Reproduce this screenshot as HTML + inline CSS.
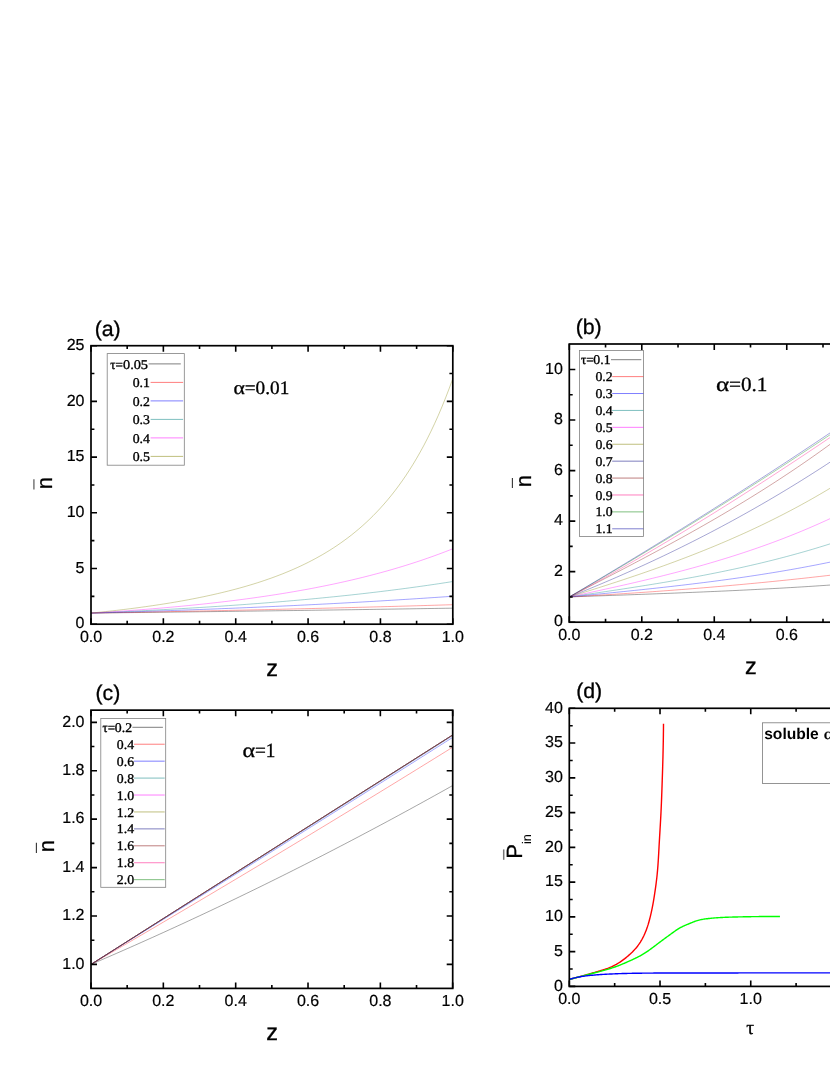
<!DOCTYPE html>
<html><head><meta charset="utf-8"><title>figure</title>
<style>
html,body{margin:0;padding:0;background:#fff;}
body{width:830px;height:1075px;overflow:hidden;font-family:"Liberation Sans", sans-serif;}
svg{display:block;will-change:transform;}
text{text-rendering:geometricPrecision;}
.tk{font-family:"Liberation Sans", sans-serif;font-size:16.0px;fill:#000;stroke:#000;stroke-width:0.2px;}
.ttl{font-family:"Liberation Sans", sans-serif;font-size:22px;fill:#000;stroke:#000;stroke-width:0.3px;}
.zl{font-family:"Liberation Sans", sans-serif;font-size:23.5px;fill:#000;stroke:#000;stroke-width:0.3px;}
.pl{font-family:"Liberation Sans", sans-serif;font-size:21.3px;fill:#000;stroke:#000;stroke-width:0.3px;}
.ser{font-family:"Liberation Serif", serif;fill:#000;stroke:#000;stroke-width:0.3px;}
.lg{font-family:"Liberation Serif", serif;fill:#000;stroke:#000;stroke-width:0.35px;}
</style></head><body>
<svg width="830" height="1075" viewBox="0 0 830 1075">
<rect width="830" height="1075" fill="#fff"/>
<g>
<polyline points="91,613.06 94.62,613.02 98.24,612.98 101.85,612.94 105.47,612.9 109.09,612.86 112.71,612.81 116.33,612.77 119.94,612.73 123.56,612.69 127.18,612.65 130.8,612.6 134.42,612.56 138.03,612.52 141.65,612.48 145.27,612.43 148.89,612.39 152.51,612.35 156.12,612.3 159.74,612.26 163.36,612.22 166.98,612.17 170.6,612.13 174.21,612.09 177.83,612.04 181.45,612 185.07,611.95 188.69,611.91 192.3,611.86 195.92,611.82 199.54,611.77 203.16,611.73 206.78,611.68 210.39,611.64 214.01,611.59 217.63,611.54 221.25,611.5 224.87,611.45 228.48,611.4 232.1,611.36 235.72,611.31 239.34,611.26 242.96,611.22 246.57,611.17 250.19,611.12 253.81,611.07 257.43,611.03 261.05,610.98 264.66,610.93 268.28,610.88 271.9,610.83 275.52,610.78 279.14,610.73 282.75,610.68 286.37,610.64 289.99,610.59 293.61,610.54 297.23,610.49 300.84,610.44 304.46,610.39 308.08,610.34 311.7,610.28 315.32,610.23 318.93,610.18 322.55,610.13 326.17,610.08 329.79,610.03 333.41,609.98 337.02,609.93 340.64,609.87 344.26,609.82 347.88,609.77 351.5,609.72 355.11,609.66 358.73,609.61 362.35,609.56 365.97,609.5 369.59,609.45 373.2,609.4 376.82,609.34 380.44,609.29 384.06,609.23 387.68,609.18 391.29,609.12 394.91,609.07 398.53,609.01 402.15,608.96 405.77,608.9 409.38,608.85 413,608.79 416.62,608.73 420.24,608.68 423.86,608.62 427.47,608.56 431.09,608.51 434.71,608.45 438.33,608.39 441.95,608.33 445.56,608.27 449.18,608.22 452.8,608.16" fill="none" stroke="#000000" stroke-width="0.7" stroke-opacity="0.5" stroke-linejoin="round"/>
<polyline points="91,613.06 94.62,613 98.24,612.93 101.85,612.87 105.47,612.81 109.09,612.74 112.71,612.68 116.33,612.61 119.94,612.55 123.56,612.48 127.18,612.42 130.8,612.35 134.42,612.29 138.03,612.22 141.65,612.15 145.27,612.08 148.89,612.02 152.51,611.95 156.12,611.88 159.74,611.81 163.36,611.74 166.98,611.67 170.6,611.6 174.21,611.53 177.83,611.46 181.45,611.39 185.07,611.32 188.69,611.24 192.3,611.17 195.92,611.1 199.54,611.02 203.16,610.95 206.78,610.88 210.39,610.8 214.01,610.73 217.63,610.65 221.25,610.57 224.87,610.5 228.48,610.42 232.1,610.34 235.72,610.27 239.34,610.19 242.96,610.11 246.57,610.03 250.19,609.95 253.81,609.87 257.43,609.79 261.05,609.71 264.66,609.63 268.28,609.55 271.9,609.46 275.52,609.38 279.14,609.3 282.75,609.21 286.37,609.13 289.99,609.04 293.61,608.96 297.23,608.87 300.84,608.79 304.46,608.7 308.08,608.61 311.7,608.53 315.32,608.44 318.93,608.35 322.55,608.26 326.17,608.17 329.79,608.08 333.41,607.99 337.02,607.9 340.64,607.81 344.26,607.72 347.88,607.63 351.5,607.53 355.11,607.44 358.73,607.34 362.35,607.25 365.97,607.16 369.59,607.06 373.2,606.96 376.82,606.87 380.44,606.77 384.06,606.67 387.68,606.57 391.29,606.47 394.91,606.37 398.53,606.27 402.15,606.17 405.77,606.07 409.38,605.97 413,605.87 416.62,605.77 420.24,605.66 423.86,605.56 427.47,605.45 431.09,605.35 434.71,605.24 438.33,605.14 441.95,605.03 445.56,604.92 449.18,604.81 452.8,604.71" fill="none" stroke="#ff0000" stroke-width="0.7" stroke-opacity="0.5" stroke-linejoin="round"/>
<polyline points="91,613.06 94.62,612.96 98.24,612.85 101.85,612.75 105.47,612.64 109.09,612.54 112.71,612.43 116.33,612.32 119.94,612.21 123.56,612.1 127.18,611.99 130.8,611.87 134.42,611.76 138.03,611.64 141.65,611.53 145.27,611.41 148.89,611.29 152.51,611.17 156.12,611.05 159.74,610.93 163.36,610.81 166.98,610.68 170.6,610.56 174.21,610.43 177.83,610.31 181.45,610.18 185.07,610.05 188.69,609.92 192.3,609.79 195.92,609.65 199.54,609.52 203.16,609.38 206.78,609.25 210.39,609.11 214.01,608.97 217.63,608.83 221.25,608.68 224.87,608.54 228.48,608.4 232.1,608.25 235.72,608.1 239.34,607.95 242.96,607.8 246.57,607.65 250.19,607.5 253.81,607.34 257.43,607.19 261.05,607.03 264.66,606.87 268.28,606.71 271.9,606.55 275.52,606.39 279.14,606.22 282.75,606.06 286.37,605.89 289.99,605.72 293.61,605.55 297.23,605.38 300.84,605.2 304.46,605.03 308.08,604.85 311.7,604.67 315.32,604.49 318.93,604.31 322.55,604.12 326.17,603.94 329.79,603.75 333.41,603.56 337.02,603.37 340.64,603.18 344.26,602.98 347.88,602.79 351.5,602.59 355.11,602.39 358.73,602.19 362.35,601.99 365.97,601.78 369.59,601.57 373.2,601.36 376.82,601.15 380.44,600.94 384.06,600.72 387.68,600.51 391.29,600.29 394.91,600.07 398.53,599.84 402.15,599.62 405.77,599.39 409.38,599.16 413,598.93 416.62,598.7 420.24,598.46 423.86,598.22 427.47,597.98 431.09,597.74 434.71,597.5 438.33,597.25 441.95,597 445.56,596.75 449.18,596.49 452.8,596.24" fill="none" stroke="#0000ff" stroke-width="0.7" stroke-opacity="0.5" stroke-linejoin="round"/>
<polyline points="91,613.06 94.62,612.91 98.24,612.76 101.85,612.6 105.47,612.45 109.09,612.29 112.71,612.13 116.33,611.96 119.94,611.8 123.56,611.63 127.18,611.46 130.8,611.29 134.42,611.11 138.03,610.94 141.65,610.76 145.27,610.57 148.89,610.39 152.51,610.2 156.12,610.01 159.74,609.82 163.36,609.63 166.98,609.43 170.6,609.23 174.21,609.03 177.83,608.82 181.45,608.62 185.07,608.41 188.69,608.19 192.3,607.98 195.92,607.76 199.54,607.53 203.16,607.31 206.78,607.08 210.39,606.85 214.01,606.61 217.63,606.38 221.25,606.14 224.87,605.89 228.48,605.64 232.1,605.39 235.72,605.14 239.34,604.88 242.96,604.62 246.57,604.35 250.19,604.09 253.81,603.81 257.43,603.54 261.05,603.26 264.66,602.98 268.28,602.69 271.9,602.4 275.52,602.1 279.14,601.81 282.75,601.5 286.37,601.2 289.99,600.88 293.61,600.57 297.23,600.25 300.84,599.93 304.46,599.6 308.08,599.27 311.7,598.93 315.32,598.59 318.93,598.24 322.55,597.89 326.17,597.53 329.79,597.17 333.41,596.81 337.02,596.44 340.64,596.06 344.26,595.68 347.88,595.3 351.5,594.91 355.11,594.51 358.73,594.11 362.35,593.7 365.97,593.29 369.59,592.87 373.2,592.45 376.82,592.02 380.44,591.58 384.06,591.14 387.68,590.7 391.29,590.24 394.91,589.78 398.53,589.32 402.15,588.85 405.77,588.37 409.38,587.88 413,587.39 416.62,586.9 420.24,586.39 423.86,585.88 427.47,585.36 431.09,584.84 434.71,584.3 438.33,583.77 441.95,583.22 445.56,582.66 449.18,582.1 452.8,581.53" fill="none" stroke="#008080" stroke-width="0.7" stroke-opacity="0.5" stroke-linejoin="round"/>
<polyline points="91,613.06 94.62,612.84 98.24,612.63 101.85,612.4 105.47,612.17 109.09,611.94 112.71,611.71 116.33,611.46 119.94,611.22 123.56,610.97 127.18,610.71 130.8,610.45 134.42,610.19 138.03,609.92 141.65,609.64 145.27,609.36 148.89,609.07 152.51,608.78 156.12,608.48 159.74,608.18 163.36,607.87 166.98,607.55 170.6,607.23 174.21,606.9 177.83,606.57 181.45,606.23 185.07,605.88 188.69,605.53 192.3,605.17 195.92,604.8 199.54,604.43 203.16,604.05 206.78,603.66 210.39,603.26 214.01,602.86 217.63,602.44 221.25,602.02 224.87,601.6 228.48,601.16 232.1,600.71 235.72,600.26 239.34,599.8 242.96,599.33 246.57,598.85 250.19,598.36 253.81,597.86 257.43,597.35 261.05,596.83 264.66,596.3 268.28,595.76 271.9,595.21 275.52,594.65 279.14,594.08 282.75,593.5 286.37,592.91 289.99,592.31 293.61,591.69 297.23,591.06 300.84,590.42 304.46,589.77 308.08,589.11 311.7,588.43 315.32,587.74 318.93,587.03 322.55,586.32 326.17,585.58 329.79,584.84 333.41,584.08 337.02,583.3 340.64,582.51 344.26,581.71 347.88,580.89 351.5,580.05 355.11,579.2 358.73,578.33 362.35,577.45 365.97,576.54 369.59,575.62 373.2,574.68 376.82,573.73 380.44,572.75 384.06,571.76 387.68,570.75 391.29,569.72 394.91,568.66 398.53,567.59 402.15,566.5 405.77,565.38 409.38,564.25 413,563.09 416.62,561.91 420.24,560.71 423.86,559.48 427.47,558.23 431.09,556.96 434.71,555.66 438.33,554.34 441.95,552.99 445.56,551.61 449.18,550.21 452.8,548.78" fill="none" stroke="#ff00ff" stroke-width="0.7" stroke-opacity="0.5" stroke-linejoin="round"/>
<polyline points="91,613.06 94.62,612.7 98.24,612.34 101.85,611.97 105.47,611.58 109.09,611.19 112.71,610.79 116.33,610.38 119.94,609.96 123.56,609.52 127.18,609.08 130.8,608.63 134.42,608.17 138.03,607.69 141.65,607.2 145.27,606.71 148.89,606.2 152.51,605.67 156.12,605.14 159.74,604.59 163.36,604.02 166.98,603.45 170.6,602.86 174.21,602.25 177.83,601.63 181.45,600.99 185.07,600.34 188.69,599.66 192.3,598.98 195.92,598.27 199.54,597.54 203.16,596.8 206.78,596.04 210.39,595.25 214.01,594.44 217.63,593.61 221.25,592.76 224.87,591.89 228.48,590.99 232.1,590.06 235.72,589.11 239.34,588.13 242.96,587.12 246.57,586.08 250.19,585.01 253.81,583.91 257.43,582.77 261.05,581.6 264.66,580.39 268.28,579.14 271.9,577.86 275.52,576.53 279.14,575.16 282.75,573.75 286.37,572.29 289.99,570.77 293.61,569.21 297.23,567.6 300.84,565.93 304.46,564.2 308.08,562.41 311.7,560.55 315.32,558.63 318.93,556.64 322.55,554.58 326.17,552.44 329.79,550.22 333.41,547.91 337.02,545.52 340.64,543.04 344.26,540.45 347.88,537.77 351.5,534.98 355.11,532.07 358.73,529.05 362.35,525.91 365.97,522.63 369.59,519.21 373.2,515.65 376.82,511.94 380.44,508.07 384.06,504.03 387.68,499.81 391.29,495.41 394.91,490.8 398.53,485.99 402.15,480.95 405.77,475.69 409.38,470.17 413,464.4 416.62,458.35 420.24,452.01 423.86,445.36 427.47,438.39 431.09,431.07 434.71,423.39 438.33,415.31 441.95,406.83 445.56,397.91 449.18,388.52 452.8,378.64" fill="none" stroke="#808000" stroke-width="0.7" stroke-opacity="0.5" stroke-linejoin="round"/>
<rect x="91" y="345.7" width="361.8" height="278.5" fill="none" stroke="#000" stroke-width="1.7"/>
<path d="M91 624.2v-6.0M91 345.7v6.0M163.36 624.2v-6.0M163.36 345.7v6.0M235.72 624.2v-6.0M235.72 345.7v6.0M308.08 624.2v-6.0M308.08 345.7v6.0M380.44 624.2v-6.0M380.44 345.7v6.0M452.8 624.2v-6.0M452.8 345.7v6.0M127.18 624.2v-3.4M127.18 345.7v3.4M199.54 624.2v-3.4M199.54 345.7v3.4M271.9 624.2v-3.4M271.9 345.7v3.4M344.26 624.2v-3.4M344.26 345.7v3.4M416.62 624.2v-3.4M416.62 345.7v3.4" stroke="#000" stroke-width="1.6" fill="none"/>
<text x="91" y="641.8" text-anchor="middle" class="tk">0.0</text>
<text x="163.36" y="641.8" text-anchor="middle" class="tk">0.2</text>
<text x="235.72" y="641.8" text-anchor="middle" class="tk">0.4</text>
<text x="308.08" y="641.8" text-anchor="middle" class="tk">0.6</text>
<text x="380.44" y="641.8" text-anchor="middle" class="tk">0.8</text>
<text x="452.8" y="641.8" text-anchor="middle" class="tk">1.0</text>
<path d="M91 624.2h6.0M452.8 624.2h-6.0M91 568.5h6.0M452.8 568.5h-6.0M91 512.8h6.0M452.8 512.8h-6.0M91 457.1h6.0M452.8 457.1h-6.0M91 401.4h6.0M452.8 401.4h-6.0M91 345.7h6.0M452.8 345.7h-6.0M91 596.35h3.4M452.8 596.35h-3.4M91 540.65h3.4M452.8 540.65h-3.4M91 484.95h3.4M452.8 484.95h-3.4M91 429.25h3.4M452.8 429.25h-3.4M91 373.55h3.4M452.8 373.55h-3.4" stroke="#000" stroke-width="1.6" fill="none"/>
<text x="84.5" y="628.4" text-anchor="end" class="tk">0</text>
<text x="84.5" y="572.7" text-anchor="end" class="tk">5</text>
<text x="84.5" y="517" text-anchor="end" class="tk">10</text>
<text x="84.5" y="461.3" text-anchor="end" class="tk">15</text>
<text x="84.5" y="405.6" text-anchor="end" class="tk">20</text>
<text x="84.5" y="349.9" text-anchor="end" class="tk">25</text>
<rect x="107.2" y="353.6" width="77.1" height="111.6" fill="#fff" stroke="#808080" stroke-width="0.8"/>
<text transform="translate(148 368.5) scale(1.065 1)" text-anchor="end" class="lg" font-size="13.4">0.05</text>
<text transform="translate(123.03 368.5) scale(0.98 1)" text-anchor="end" class="lg" font-size="13.4">τ=</text>
<line x1="148.6" y1="363.9" x2="180.8" y2="363.9" stroke="#000000" stroke-width="0.6" stroke-opacity="0.85"/>
<text transform="translate(149.9 387) scale(1.03 1)" text-anchor="end" class="lg" font-size="13.4">0.1</text>
<line x1="150.6" y1="382.4" x2="183.1" y2="382.4" stroke="#ff0000" stroke-width="0.6" stroke-opacity="0.85"/>
<text transform="translate(149.9 405.5) scale(1.03 1)" text-anchor="end" class="lg" font-size="13.4">0.2</text>
<line x1="150.6" y1="400.9" x2="183.1" y2="400.9" stroke="#0000ff" stroke-width="0.6" stroke-opacity="0.85"/>
<text transform="translate(149.9 424) scale(1.03 1)" text-anchor="end" class="lg" font-size="13.4">0.3</text>
<line x1="150.6" y1="419.4" x2="183.1" y2="419.4" stroke="#008080" stroke-width="0.6" stroke-opacity="0.85"/>
<text transform="translate(149.9 442.5) scale(1.03 1)" text-anchor="end" class="lg" font-size="13.4">0.4</text>
<line x1="150.6" y1="437.9" x2="183.1" y2="437.9" stroke="#ff00ff" stroke-width="0.6" stroke-opacity="0.85"/>
<text transform="translate(149.9 461) scale(1.03 1)" text-anchor="end" class="lg" font-size="13.4">0.5</text>
<line x1="150.6" y1="456.4" x2="183.1" y2="456.4" stroke="#808000" stroke-width="0.6" stroke-opacity="0.85"/>
<text x="94.7" y="335.8" class="pl">(a)</text>
<text x="233.6" y="394.3" class="ser" font-size="19" textLength="11.4" lengthAdjust="spacingAndGlyphs">α</text>
<text x="244.7" y="394.3" class="ser" font-size="19" textLength="44.6" lengthAdjust="spacingAndGlyphs">=0.01</text>
<text x="272.2" y="675.8" text-anchor="middle" class="zl">z</text>
<text transform="translate(51.8 483) rotate(-90)" text-anchor="middle" class="ttl">n</text>
<line x1="33.9" y1="479.3" x2="33.9" y2="489.4" stroke="#777" stroke-width="1.5"/>
<polyline points="569.3,596.93 572.92,596.8 576.55,596.67 580.17,596.54 583.8,596.41 587.42,596.28 591.05,596.15 594.67,596.03 598.29,595.9 601.92,595.77 605.54,595.64 609.17,595.51 612.79,595.38 616.42,595.25 620.04,595.13 623.66,595 627.29,594.87 630.91,594.74 634.54,594.6 638.16,594.47 641.79,594.34 645.41,594.21 649.03,594.07 652.66,593.94 656.28,593.8 659.91,593.67 663.53,593.53 667.16,593.39 670.78,593.25 674.4,593.11 678.03,592.97 681.65,592.82 685.28,592.68 688.9,592.53 692.53,592.38 696.15,592.23 699.77,592.08 703.4,591.93 707.02,591.77 710.65,591.62 714.27,591.46 717.9,591.3 721.52,591.14 725.14,590.97 728.77,590.81 732.39,590.64 736.02,590.47 739.64,590.29 743.27,590.12 746.89,589.94 750.51,589.76 754.14,589.58 757.76,589.39 761.39,589.2 765.01,589.01 768.64,588.82 772.26,588.62 775.89,588.42 779.51,588.22 783.13,588.02 786.76,587.81 790.38,587.6 794.01,587.38 797.63,587.16 801.26,586.94 804.88,586.72 808.5,586.49 812.13,586.26 815.75,586.02 819.38,585.78 823,585.54 826.63,585.29 830.25,585.04 833.87,584.79 837.5,584.53 841.12,584.27" fill="none" stroke="#000000" stroke-width="0.7" stroke-opacity="0.5" stroke-linejoin="round"/>
<polyline points="569.3,596.93 572.92,596.73 576.55,596.52 580.17,596.32 583.8,596.11 587.42,595.9 591.05,595.68 594.67,595.47 598.29,595.25 601.92,595.03 605.54,594.81 609.17,594.58 612.79,594.36 616.42,594.13 620.04,593.89 623.66,593.66 627.29,593.42 630.91,593.18 634.54,592.94 638.16,592.69 641.79,592.44 645.41,592.19 649.03,591.94 652.66,591.69 656.28,591.43 659.91,591.16 663.53,590.9 667.16,590.63 670.78,590.36 674.4,590.09 678.03,589.81 681.65,589.54 685.28,589.25 688.9,588.97 692.53,588.68 696.15,588.39 699.77,588.1 703.4,587.8 707.02,587.5 710.65,587.2 714.27,586.89 717.9,586.58 721.52,586.27 725.14,585.95 728.77,585.63 732.39,585.31 736.02,584.98 739.64,584.65 743.27,584.32 746.89,583.98 750.51,583.64 754.14,583.3 757.76,582.95 761.39,582.6 765.01,582.25 768.64,581.89 772.26,581.53 775.89,581.16 779.51,580.79 783.13,580.42 786.76,580.05 790.38,579.67 794.01,579.28 797.63,578.9 801.26,578.5 804.88,578.11 808.5,577.71 812.13,577.31 815.75,576.9 819.38,576.49 823,576.08 826.63,575.66 830.25,575.23 833.87,574.81 837.5,574.38 841.12,573.94" fill="none" stroke="#ff0000" stroke-width="0.7" stroke-opacity="0.5" stroke-linejoin="round"/>
<polyline points="569.3,596.93 572.92,596.58 576.55,596.22 580.17,595.87 583.8,595.52 587.42,595.16 591.05,594.81 594.67,594.45 598.29,594.09 601.92,593.74 605.54,593.38 609.17,593.02 612.79,592.65 616.42,592.29 620.04,591.92 623.66,591.55 627.29,591.18 630.91,590.81 634.54,590.43 638.16,590.06 641.79,589.68 645.41,589.29 649.03,588.9 652.66,588.51 656.28,588.12 659.91,587.72 663.53,587.32 667.16,586.91 670.78,586.51 674.4,586.09 678.03,585.67 681.65,585.25 685.28,584.82 688.9,584.39 692.53,583.95 696.15,583.51 699.77,583.06 703.4,582.61 707.02,582.15 710.65,581.69 714.27,581.22 717.9,580.74 721.52,580.26 725.14,579.77 728.77,579.27 732.39,578.77 736.02,578.26 739.64,577.74 743.27,577.22 746.89,576.69 750.51,576.15 754.14,575.6 757.76,575.05 761.39,574.49 765.01,573.92 768.64,573.34 772.26,572.75 775.89,572.16 779.51,571.55 783.13,570.94 786.76,570.32 790.38,569.69 794.01,569.05 797.63,568.4 801.26,567.74 804.88,567.07 808.5,566.39 812.13,565.7 815.75,565 819.38,564.29 823,563.57 826.63,562.84 830.25,562.1 833.87,561.34 837.5,560.58 841.12,559.8" fill="none" stroke="#0000ff" stroke-width="0.7" stroke-opacity="0.5" stroke-linejoin="round"/>
<polyline points="569.3,596.93 572.92,596.4 576.55,595.87 580.17,595.34 583.8,594.81 587.42,594.28 591.05,593.74 594.67,593.21 598.29,592.67 601.92,592.14 605.54,591.6 609.17,591.05 612.79,590.51 616.42,589.96 620.04,589.41 623.66,588.86 627.29,588.3 630.91,587.74 634.54,587.17 638.16,586.6 641.79,586.03 645.41,585.45 649.03,584.86 652.66,584.27 656.28,583.68 659.91,583.08 663.53,582.47 667.16,581.86 670.78,581.24 674.4,580.61 678.03,579.98 681.65,579.34 685.28,578.69 688.9,578.03 692.53,577.37 696.15,576.7 699.77,576.01 703.4,575.33 707.02,574.63 710.65,573.92 714.27,573.2 717.9,572.48 721.52,571.74 725.14,570.99 728.77,570.23 732.39,569.47 736.02,568.69 739.64,567.9 743.27,567.1 746.89,566.28 750.51,565.46 754.14,564.62 757.76,563.77 761.39,562.91 765.01,562.04 768.64,561.15 772.26,560.25 775.89,559.33 779.51,558.4 783.13,557.46 786.76,556.5 790.38,555.53 794.01,554.54 797.63,553.54 801.26,552.53 804.88,551.49 808.5,550.45 812.13,549.38 815.75,548.3 819.38,547.2 823,546.09 826.63,544.96 830.25,543.81 833.87,542.64 837.5,541.46 841.12,540.26" fill="none" stroke="#008080" stroke-width="0.7" stroke-opacity="0.5" stroke-linejoin="round"/>
<polyline points="569.3,596.93 572.92,596.16 576.55,595.39 580.17,594.61 583.8,593.84 587.42,593.06 591.05,592.28 594.67,591.49 598.29,590.71 601.92,589.91 605.54,589.12 609.17,588.32 612.79,587.52 616.42,586.71 620.04,585.89 623.66,585.07 627.29,584.25 630.91,583.42 634.54,582.58 638.16,581.73 641.79,580.88 645.41,580.02 649.03,579.15 652.66,578.27 656.28,577.39 659.91,576.5 663.53,575.59 667.16,574.68 670.78,573.76 674.4,572.83 678.03,571.88 681.65,570.93 685.28,569.97 688.9,568.99 692.53,568 696.15,567 699.77,565.99 703.4,564.97 707.02,563.93 710.65,562.88 714.27,561.81 717.9,560.73 721.52,559.64 725.14,558.53 728.77,557.41 732.39,556.27 736.02,555.12 739.64,553.95 743.27,552.76 746.89,551.56 750.51,550.34 754.14,549.1 757.76,547.85 761.39,546.57 765.01,545.28 768.64,543.97 772.26,542.65 775.89,541.3 779.51,539.93 783.13,538.55 786.76,537.14 790.38,535.71 794.01,534.26 797.63,532.79 801.26,531.3 804.88,529.79 808.5,528.26 812.13,526.7 815.75,525.12 819.38,523.52 823,521.89 826.63,520.24 830.25,518.56 833.87,516.87 837.5,515.14 841.12,513.39" fill="none" stroke="#ff00ff" stroke-width="0.7" stroke-opacity="0.5" stroke-linejoin="round"/>
<polyline points="569.3,596.93 572.92,595.81 576.55,594.68 580.17,593.55 583.8,592.42 587.42,591.28 591.05,590.14 594.67,588.99 598.29,587.84 601.92,586.68 605.54,585.52 609.17,584.35 612.79,583.17 616.42,581.99 620.04,580.8 623.66,579.6 627.29,578.39 630.91,577.18 634.54,575.95 638.16,574.72 641.79,573.48 645.41,572.23 649.03,570.96 652.66,569.69 656.28,568.41 659.91,567.12 663.53,565.82 667.16,564.5 670.78,563.17 674.4,561.83 678.03,560.48 681.65,559.12 685.28,557.74 688.9,556.35 692.53,554.94 696.15,553.52 699.77,552.09 703.4,550.64 707.02,549.18 710.65,547.7 714.27,546.21 717.9,544.7 721.52,543.17 725.14,541.63 728.77,540.07 732.39,538.49 736.02,536.89 739.64,535.28 743.27,533.65 746.89,532 750.51,530.33 754.14,528.64 757.76,526.94 761.39,525.21 765.01,523.46 768.64,521.69 772.26,519.9 775.89,518.09 779.51,516.26 783.13,514.41 786.76,512.53 790.38,510.63 794.01,508.71 797.63,506.77 801.26,504.8 804.88,502.81 808.5,500.79 812.13,498.75 815.75,496.68 819.38,494.59 823,492.48 826.63,490.34 830.25,488.17 833.87,485.98 837.5,483.76 841.12,481.51" fill="none" stroke="#808000" stroke-width="0.7" stroke-opacity="0.5" stroke-linejoin="round"/>
<polyline points="569.3,596.93 572.92,595.48 576.55,594.03 580.17,592.56 583.8,591.09 587.42,589.6 591.05,588.1 594.67,586.59 598.29,585.08 601.92,583.55 605.54,582.01 609.17,580.46 612.79,578.9 616.42,577.33 620.04,575.74 623.66,574.15 627.29,572.54 630.91,570.93 634.54,569.3 638.16,567.66 641.79,566.01 645.41,564.35 649.03,562.67 652.66,560.99 656.28,559.29 659.91,557.58 663.53,555.86 667.16,554.12 670.78,552.38 674.4,550.62 678.03,548.85 681.65,547.06 685.28,545.26 688.9,543.46 692.53,541.63 696.15,539.8 699.77,537.95 703.4,536.09 707.02,534.21 710.65,532.33 714.27,530.43 717.9,528.51 721.52,526.58 725.14,524.64 728.77,522.69 732.39,520.72 736.02,518.74 739.64,516.74 743.27,514.73 746.89,512.7 750.51,510.66 754.14,508.61 757.76,506.54 761.39,504.46 765.01,502.37 768.64,500.25 772.26,498.13 775.89,495.99 779.51,493.83 783.13,491.66 786.76,489.47 790.38,487.27 794.01,485.06 797.63,482.83 801.26,480.58 804.88,478.32 808.5,476.04 812.13,473.74 815.75,471.43 819.38,469.11 823,466.77 826.63,464.41 830.25,462.03 833.87,459.64 837.5,457.24 841.12,454.82" fill="none" stroke="#000080" stroke-width="0.7" stroke-opacity="0.5" stroke-linejoin="round"/>
<polyline points="569.3,596.93 572.92,595.06 576.55,593.19 580.17,591.32 583.8,589.45 587.42,587.58 591.05,585.71 594.67,583.84 598.29,581.96 601.92,580.09 605.54,578.21 609.17,576.33 612.79,574.44 616.42,572.56 620.04,570.66 623.66,568.77 627.29,566.87 630.91,564.97 634.54,563.06 638.16,561.15 641.79,559.23 645.41,557.31 649.03,555.38 652.66,553.44 656.28,551.5 659.91,549.55 663.53,547.59 667.16,545.63 670.78,543.65 674.4,541.67 678.03,539.68 681.65,537.69 685.28,535.68 688.9,533.66 692.53,531.64 696.15,529.6 699.77,527.55 703.4,525.49 707.02,523.42 710.65,521.34 714.27,519.25 717.9,517.15 721.52,515.03 725.14,512.9 728.77,510.76 732.39,508.6 736.02,506.43 739.64,504.25 743.27,502.05 746.89,499.84 750.51,497.61 754.14,495.37 757.76,493.11 761.39,490.84 765.01,488.55 768.64,486.24 772.26,483.92 775.89,481.58 779.51,479.22 783.13,476.84 786.76,474.45 790.38,472.04 794.01,469.61 797.63,467.16 801.26,464.69 804.88,462.2 808.5,459.69 812.13,457.16 815.75,454.61 819.38,452.04 823,449.45 826.63,446.84 830.25,444.2 833.87,441.54 837.5,438.86 841.12,436.16" fill="none" stroke="#800000" stroke-width="0.7" stroke-opacity="0.5" stroke-linejoin="round"/>
<polyline points="569.3,596.93 572.92,594.99 576.55,593.03 580.17,591.07 583.8,589.1 587.42,587.13 591.05,585.14 594.67,583.14 598.29,581.14 601.92,579.13 605.54,577.11 609.17,575.08 612.79,573.04 616.42,570.99 620.04,568.94 623.66,566.88 627.29,564.8 630.91,562.73 634.54,560.64 638.16,558.54 641.79,556.44 645.41,554.33 649.03,552.21 652.66,550.09 656.28,547.95 659.91,545.81 663.53,543.66 667.16,541.5 670.78,539.34 674.4,537.17 678.03,534.99 681.65,532.8 685.28,530.61 688.9,528.41 692.53,526.2 696.15,523.98 699.77,521.76 703.4,519.53 707.02,517.29 710.65,515.05 714.27,512.8 717.9,510.54 721.52,508.27 725.14,506 728.77,503.72 732.39,501.44 736.02,499.15 739.64,496.85 743.27,494.54 746.89,492.23 750.51,489.91 754.14,487.59 757.76,485.26 761.39,482.92 765.01,480.58 768.64,478.23 772.26,475.88 775.89,473.51 779.51,471.15 783.13,468.77 786.76,466.39 790.38,464.01 794.01,461.62 797.63,459.22 801.26,456.82 804.88,454.41 808.5,452 812.13,449.58 815.75,447.15 819.38,444.72 823,442.28 826.63,439.84 830.25,437.4 833.87,434.94 837.5,432.49 841.12,430.02" fill="none" stroke="#ff0080" stroke-width="0.7" stroke-opacity="0.5" stroke-linejoin="round"/>
<polyline points="569.3,596.93 572.92,594.84 576.55,592.75 580.17,590.66 583.8,588.56 587.42,586.45 591.05,584.34 594.67,582.22 598.29,580.1 601.92,577.98 605.54,575.84 609.17,573.71 612.79,571.57 616.42,569.42 620.04,567.27 623.66,565.11 627.29,562.95 630.91,560.79 634.54,558.62 638.16,556.44 641.79,554.26 645.41,552.08 649.03,549.89 652.66,547.69 656.28,545.5 659.91,543.29 663.53,541.08 667.16,538.87 670.78,536.65 674.4,534.43 678.03,532.2 681.65,529.97 685.28,527.73 688.9,525.49 692.53,523.25 696.15,520.99 699.77,518.74 703.4,516.48 707.02,514.22 710.65,511.95 714.27,509.67 717.9,507.4 721.52,505.11 725.14,502.83 728.77,500.54 732.39,498.24 736.02,495.94 739.64,493.64 743.27,491.33 746.89,489.01 750.51,486.7 754.14,484.37 757.76,482.05 761.39,479.72 765.01,477.38 768.64,475.04 772.26,472.7 775.89,470.35 779.51,468 783.13,465.64 786.76,463.28 790.38,460.92 794.01,458.55 797.63,456.17 801.26,453.8 804.88,451.41 808.5,449.03 812.13,446.64 815.75,444.24 819.38,441.85 823,439.44 826.63,437.04 830.25,434.63 833.87,432.21 837.5,429.79 841.12,427.37" fill="none" stroke="#008000" stroke-width="0.7" stroke-opacity="0.5" stroke-linejoin="round"/>
<polyline points="569.3,596.93 572.92,594.79 576.55,592.65 580.17,590.5 583.8,588.35 587.42,586.19 591.05,584.03 594.67,581.87 598.29,579.71 601.92,577.54 605.54,575.37 609.17,573.19 612.79,571.01 616.42,568.83 620.04,566.64 623.66,564.45 627.29,562.25 630.91,560.05 634.54,557.85 638.16,555.64 641.79,553.43 645.41,551.22 649.03,549 652.66,546.78 656.28,544.55 659.91,542.32 663.53,540.09 667.16,537.85 670.78,535.61 674.4,533.37 678.03,531.12 681.65,528.86 685.28,526.61 688.9,524.34 692.53,522.08 696.15,519.81 699.77,517.53 703.4,515.26 707.02,512.97 710.65,510.69 714.27,508.4 717.9,506.1 721.52,503.8 725.14,501.5 728.77,499.19 732.39,496.88 736.02,494.57 739.64,492.24 743.27,489.92 746.89,487.59 750.51,485.26 754.14,482.92 757.76,480.58 761.39,478.23 765.01,475.88 768.64,473.53 772.26,471.17 775.89,468.8 779.51,466.43 783.13,464.06 786.76,461.68 790.38,459.3 794.01,456.91 797.63,454.52 801.26,452.13 804.88,449.73 808.5,447.32 812.13,444.91 815.75,442.5 819.38,440.08 823,437.65 826.63,435.22 830.25,432.79 833.87,430.35 837.5,427.91 841.12,425.46" fill="none" stroke="#0000a0" stroke-width="0.7" stroke-opacity="0.5" stroke-linejoin="round"/>
<rect x="569.3" y="344" width="362.43" height="278.2" fill="none" stroke="#000" stroke-width="1.7"/>
<path d="M569.3 622.2v-6.0M569.3 344v6.0M641.79 622.2v-6.0M641.79 344v6.0M714.27 622.2v-6.0M714.27 344v6.0M786.76 622.2v-6.0M786.76 344v6.0M605.54 622.2v-3.4M605.54 344v3.4M678.03 622.2v-3.4M678.03 344v3.4M750.51 622.2v-3.4M750.51 344v3.4M823 622.2v-3.4M823 344v3.4" stroke="#000" stroke-width="1.6" fill="none"/>
<text x="569.3" y="640.1" text-anchor="middle" class="tk">0.0</text>
<text x="641.79" y="640.1" text-anchor="middle" class="tk">0.2</text>
<text x="714.27" y="640.1" text-anchor="middle" class="tk">0.4</text>
<text x="786.76" y="640.1" text-anchor="middle" class="tk">0.6</text>
<text x="859.24" y="640.1" text-anchor="middle" class="tk">0.8</text>
<path d="M569.3 622.2h6.0M569.3 571.66h6.0M569.3 521.12h6.0M569.3 470.58h6.0M569.3 420.04h6.0M569.3 369.5h6.0M569.3 596.93h3.4M569.3 546.39h3.4M569.3 495.85h3.4M569.3 445.31h3.4M569.3 394.77h3.4" stroke="#000" stroke-width="1.6" fill="none"/>
<text x="562.8" y="626.4" text-anchor="end" class="tk">0</text>
<text x="562.8" y="575.86" text-anchor="end" class="tk">2</text>
<text x="562.8" y="525.32" text-anchor="end" class="tk">4</text>
<text x="562.8" y="474.78" text-anchor="end" class="tk">6</text>
<text x="562.8" y="424.24" text-anchor="end" class="tk">8</text>
<text x="562.8" y="373.7" text-anchor="end" class="tk">10</text>
<rect x="579.6" y="350.4" width="63.9" height="186" fill="#fff" stroke="#808080" stroke-width="0.8"/>
<text transform="translate(610.6 364.3) scale(1.03 1)" text-anchor="end" class="lg" font-size="13.4">0.1</text>
<text transform="translate(593.75 364.3) scale(0.98 1)" text-anchor="end" class="lg" font-size="13.4">τ=</text>
<line x1="611" y1="359.7" x2="641.3" y2="359.7" stroke="#000000" stroke-width="0.6" stroke-opacity="0.85"/>
<text transform="translate(612.7 381.21) scale(1.03 1)" text-anchor="end" class="lg" font-size="13.4">0.2</text>
<line x1="612.2" y1="376.61" x2="643.3" y2="376.61" stroke="#ff0000" stroke-width="0.6" stroke-opacity="0.85"/>
<text transform="translate(612.7 398.12) scale(1.03 1)" text-anchor="end" class="lg" font-size="13.4">0.3</text>
<line x1="612.2" y1="393.52" x2="643.3" y2="393.52" stroke="#0000ff" stroke-width="0.6" stroke-opacity="0.85"/>
<text transform="translate(612.7 415.03) scale(1.03 1)" text-anchor="end" class="lg" font-size="13.4">0.4</text>
<line x1="612.2" y1="410.43" x2="643.3" y2="410.43" stroke="#008080" stroke-width="0.6" stroke-opacity="0.85"/>
<text transform="translate(612.7 431.94) scale(1.03 1)" text-anchor="end" class="lg" font-size="13.4">0.5</text>
<line x1="612.2" y1="427.34" x2="643.3" y2="427.34" stroke="#ff00ff" stroke-width="0.6" stroke-opacity="0.85"/>
<text transform="translate(612.7 448.85) scale(1.03 1)" text-anchor="end" class="lg" font-size="13.4">0.6</text>
<line x1="612.2" y1="444.25" x2="643.3" y2="444.25" stroke="#808000" stroke-width="0.6" stroke-opacity="0.85"/>
<text transform="translate(612.7 465.76) scale(1.03 1)" text-anchor="end" class="lg" font-size="13.4">0.7</text>
<line x1="612.2" y1="461.16" x2="643.3" y2="461.16" stroke="#000080" stroke-width="0.6" stroke-opacity="0.85"/>
<text transform="translate(612.7 482.67) scale(1.03 1)" text-anchor="end" class="lg" font-size="13.4">0.8</text>
<line x1="612.2" y1="478.07" x2="643.3" y2="478.07" stroke="#800000" stroke-width="0.6" stroke-opacity="0.85"/>
<text transform="translate(612.7 499.58) scale(1.03 1)" text-anchor="end" class="lg" font-size="13.4">0.9</text>
<line x1="612.2" y1="494.98" x2="643.3" y2="494.98" stroke="#ff0080" stroke-width="0.6" stroke-opacity="0.85"/>
<text transform="translate(612.7 516.49) scale(1.03 1)" text-anchor="end" class="lg" font-size="13.4">1.0</text>
<line x1="612.2" y1="511.89" x2="643.3" y2="511.89" stroke="#008000" stroke-width="0.6" stroke-opacity="0.85"/>
<text transform="translate(612.7 533.4) scale(1.03 1)" text-anchor="end" class="lg" font-size="13.4">1.1</text>
<line x1="612.2" y1="528.8" x2="643.3" y2="528.8" stroke="#0000a0" stroke-width="0.6" stroke-opacity="0.85"/>
<text x="575.7" y="334.3" class="pl">(b)</text>
<text x="716" y="391.1" class="ser" font-size="20.2" textLength="13.2" lengthAdjust="spacingAndGlyphs">α</text>
<text x="728.9" y="391.1" class="ser" font-size="20.2" textLength="38.6" lengthAdjust="spacingAndGlyphs">=0.1</text>
<text x="750.8" y="674.0" text-anchor="middle" class="zl">z</text>
<text transform="translate(530.6 481) rotate(-90)" text-anchor="middle" class="ttl">n</text>
<line x1="512.4" y1="478.0" x2="512.4" y2="488.1" stroke="#333" stroke-width="1.1"/>
<polyline points="91,964.4 94.62,962.85 98.23,961.3 101.85,959.74 105.47,958.17 109.09,956.61 112.7,955.03 116.32,953.45 119.94,951.87 123.55,950.28 127.17,948.69 130.79,947.09 134.4,945.49 138.02,943.88 141.64,942.27 145.25,940.65 148.87,939.03 152.49,937.41 156.11,935.78 159.72,934.14 163.34,932.5 166.96,930.85 170.57,929.2 174.19,927.55 177.81,925.89 181.43,924.22 185.04,922.55 188.66,920.87 192.28,919.19 195.89,917.51 199.51,915.82 203.13,914.13 206.74,912.43 210.36,910.72 213.98,909.01 217.6,907.3 221.21,905.58 224.83,903.86 228.45,902.13 232.06,900.4 235.68,898.66 239.3,896.92 242.91,895.17 246.53,893.42 250.15,891.66 253.76,889.9 257.38,888.13 261,886.36 264.62,884.58 268.23,882.8 271.85,881.01 275.47,879.22 279.08,877.43 282.7,875.63 286.32,873.82 289.94,872.01 293.55,870.19 297.17,868.37 300.79,866.55 304.4,864.72 308.02,862.88 311.64,861.04 315.25,859.2 318.87,857.35 322.49,855.5 326.11,853.64 329.72,851.77 333.34,849.91 336.96,848.03 340.57,846.15 344.19,844.27 347.81,842.38 351.42,840.49 355.04,838.59 358.66,836.69 362.27,834.78 365.89,832.87 369.51,830.95 373.13,829.03 376.74,827.1 380.36,825.17 383.98,823.24 387.59,821.3 391.21,819.35 394.83,817.4 398.44,815.44 402.06,813.48 405.68,811.52 409.3,809.55 412.91,807.57 416.53,805.59 420.15,803.61 423.76,801.62 427.38,799.62 431,797.62 434.62,795.62 438.23,793.61 441.85,791.6 445.47,789.58 449.08,787.55 452.7,785.53" fill="none" stroke="#000000" stroke-width="0.7" stroke-opacity="0.5" stroke-linejoin="round"/>
<polyline points="91,964.4 94.62,962.3 98.23,960.2 101.85,958.1 105.47,955.99 109.09,953.89 112.7,951.78 116.32,949.67 119.94,947.56 123.55,945.45 127.17,943.33 130.79,941.22 134.4,939.1 138.02,936.99 141.64,934.87 145.25,932.75 148.87,930.63 152.49,928.5 156.11,926.38 159.72,924.25 163.34,922.12 166.96,919.99 170.57,917.86 174.19,915.73 177.81,913.6 181.43,911.46 185.04,909.33 188.66,907.19 192.28,905.05 195.89,902.91 199.51,900.77 203.13,898.62 206.74,896.48 210.36,894.33 213.98,892.18 217.6,890.03 221.21,887.88 224.83,885.73 228.45,883.58 232.06,881.42 235.68,879.27 239.3,877.11 242.91,874.95 246.53,872.79 250.15,870.62 253.76,868.46 257.38,866.3 261,864.13 264.62,861.96 268.23,859.79 271.85,857.62 275.47,855.45 279.08,853.27 282.7,851.1 286.32,848.92 289.94,846.74 293.55,844.56 297.17,842.38 300.79,840.2 304.4,838.01 308.02,835.83 311.64,833.64 315.25,831.45 318.87,829.26 322.49,827.07 326.11,824.88 329.72,822.68 333.34,820.49 336.96,818.29 340.57,816.09 344.19,813.89 347.81,811.69 351.42,809.49 355.04,807.28 358.66,805.08 362.27,802.87 365.89,800.66 369.51,798.45 373.13,796.24 376.74,794.02 380.36,791.81 383.98,789.59 387.59,787.37 391.21,785.16 394.83,782.94 398.44,780.71 402.06,778.49 405.68,776.26 409.3,774.04 412.91,771.81 416.53,769.58 420.15,767.35 423.76,765.12 427.38,762.88 431,760.65 434.62,758.41 438.23,756.18 441.85,753.94 445.47,751.69 449.08,749.45 452.7,747.21" fill="none" stroke="#ff0000" stroke-width="0.7" stroke-opacity="0.5" stroke-linejoin="round"/>
<polyline points="91,964.4 94.62,962.15 98.23,959.91 101.85,957.66 105.47,955.41 109.09,953.17 112.7,950.92 116.32,948.67 119.94,946.42 123.55,944.17 127.17,941.92 130.79,939.67 134.4,937.42 138.02,935.16 141.64,932.91 145.25,930.66 148.87,928.41 152.49,926.15 156.11,923.9 159.72,921.64 163.34,919.39 166.96,917.13 170.57,914.88 174.19,912.62 177.81,910.36 181.43,908.11 185.04,905.85 188.66,903.59 192.28,901.33 195.89,899.07 199.51,896.81 203.13,894.55 206.74,892.29 210.36,890.03 213.98,887.77 217.6,885.5 221.21,883.24 224.83,880.98 228.45,878.71 232.06,876.45 235.68,874.18 239.3,871.92 242.91,869.65 246.53,867.39 250.15,865.12 253.76,862.85 257.38,860.58 261,858.32 264.62,856.05 268.23,853.78 271.85,851.51 275.47,849.24 279.08,846.97 282.7,844.7 286.32,842.42 289.94,840.15 293.55,837.88 297.17,835.61 300.79,833.33 304.4,831.06 308.02,828.78 311.64,826.51 315.25,824.23 318.87,821.96 322.49,819.68 326.11,817.4 329.72,815.13 333.34,812.85 336.96,810.57 340.57,808.29 344.19,806.01 347.81,803.73 351.42,801.45 355.04,799.17 358.66,796.89 362.27,794.61 365.89,792.33 369.51,790.04 373.13,787.76 376.74,785.48 380.36,783.19 383.98,780.91 387.59,778.62 391.21,776.34 394.83,774.05 398.44,771.76 402.06,769.48 405.68,767.19 409.3,764.9 412.91,762.61 416.53,760.32 420.15,758.03 423.76,755.74 427.38,753.45 431,751.16 434.62,748.87 438.23,746.58 441.85,744.29 445.47,741.99 449.08,739.7 452.7,737.41" fill="none" stroke="#0000ff" stroke-width="0.7" stroke-opacity="0.5" stroke-linejoin="round"/>
<polyline points="91,964.4 94.62,962.12 98.23,959.85 101.85,957.57 105.47,955.3 109.09,953.02 112.7,950.74 116.32,948.47 119.94,946.19 123.55,943.91 127.17,941.64 130.79,939.36 134.4,937.08 138.02,934.8 141.64,932.52 145.25,930.24 148.87,927.96 152.49,925.69 156.11,923.41 159.72,921.13 163.34,918.85 166.96,916.57 170.57,914.29 174.19,912 177.81,909.72 181.43,907.44 185.04,905.16 188.66,902.88 192.28,900.6 195.89,898.32 199.51,896.03 203.13,893.75 206.74,891.47 210.36,889.18 213.98,886.9 217.6,884.62 221.21,882.33 224.83,880.05 228.45,877.76 232.06,875.48 235.68,873.2 239.3,870.91 242.91,868.63 246.53,866.34 250.15,864.05 253.76,861.77 257.38,859.48 261,857.19 264.62,854.91 268.23,852.62 271.85,850.33 275.47,848.05 279.08,845.76 282.7,843.47 286.32,841.18 289.94,838.89 293.55,836.61 297.17,834.32 300.79,832.03 304.4,829.74 308.02,827.45 311.64,825.16 315.25,822.87 318.87,820.58 322.49,818.29 326.11,816 329.72,813.7 333.34,811.41 336.96,809.12 340.57,806.83 344.19,804.54 347.81,802.25 351.42,799.95 355.04,797.66 358.66,795.37 362.27,793.07 365.89,790.78 369.51,788.49 373.13,786.19 376.74,783.9 380.36,781.6 383.98,779.31 387.59,777.01 391.21,774.72 394.83,772.42 398.44,770.13 402.06,767.83 405.68,765.54 409.3,763.24 412.91,760.94 416.53,758.65 420.15,756.35 423.76,754.05 427.38,751.75 431,749.46 434.62,747.16 438.23,744.86 441.85,742.56 445.47,740.26 449.08,737.96 452.7,735.66" fill="none" stroke="#008080" stroke-width="0.7" stroke-opacity="0.5" stroke-linejoin="round"/>
<polyline points="91,964.4 94.62,962.11 98.23,959.81 101.85,957.52 105.47,955.23 109.09,952.94 112.7,950.64 116.32,948.35 119.94,946.06 123.55,943.76 127.17,941.47 130.79,939.18 134.4,936.88 138.02,934.59 141.64,932.3 145.25,930.01 148.87,927.71 152.49,925.42 156.11,923.13 159.72,920.83 163.34,918.54 166.96,916.25 170.57,913.96 174.19,911.66 177.81,909.37 181.43,907.08 185.04,904.78 188.66,902.49 192.28,900.2 195.89,897.9 199.51,895.61 203.13,893.32 206.74,891.03 210.36,888.73 213.98,886.44 217.6,884.15 221.21,881.85 224.83,879.56 228.45,877.27 232.06,874.98 235.68,872.68 239.3,870.39 242.91,868.1 246.53,865.8 250.15,863.51 253.76,861.22 257.38,858.92 261,856.63 264.62,854.34 268.23,852.05 271.85,849.75 275.47,847.46 279.08,845.17 282.7,842.87 286.32,840.58 289.94,838.29 293.55,836 297.17,833.7 300.79,831.41 304.4,829.12 308.02,826.82 311.64,824.53 315.25,822.24 318.87,819.94 322.49,817.65 326.11,815.36 329.72,813.07 333.34,810.77 336.96,808.48 340.57,806.19 344.19,803.89 347.81,801.6 351.42,799.31 355.04,797.02 358.66,794.72 362.27,792.43 365.89,790.14 369.51,787.84 373.13,785.55 376.74,783.26 380.36,780.96 383.98,778.67 387.59,776.38 391.21,774.09 394.83,771.79 398.44,769.5 402.06,767.21 405.68,764.91 409.3,762.62 412.91,760.33 416.53,758.04 420.15,755.74 423.76,753.45 427.38,751.16 431,748.86 434.62,746.57 438.23,744.28 441.85,741.98 445.47,739.69 449.08,737.4 452.7,735.11" fill="none" stroke="#ff00ff" stroke-width="0.7" stroke-opacity="0.5" stroke-linejoin="round"/>
<polyline points="91,964.4 94.62,962.11 98.23,959.81 101.85,957.52 105.47,955.22 109.09,952.93 112.7,950.63 116.32,948.34 119.94,946.04 123.55,943.75 127.17,941.45 130.79,939.16 134.4,936.86 138.02,934.57 141.64,932.28 145.25,929.98 148.87,927.69 152.49,925.39 156.11,923.1 159.72,920.8 163.34,918.51 166.96,916.21 170.57,913.92 174.19,911.62 177.81,909.33 181.43,907.03 185.04,904.74 188.66,902.44 192.28,900.15 195.89,897.86 199.51,895.56 203.13,893.27 206.74,890.97 210.36,888.68 213.98,886.38 217.6,884.09 221.21,881.79 224.83,879.5 228.45,877.2 232.06,874.91 235.68,872.61 239.3,870.32 242.91,868.03 246.53,865.73 250.15,863.44 253.76,861.14 257.38,858.85 261,856.55 264.62,854.26 268.23,851.96 271.85,849.67 275.47,847.37 279.08,845.08 282.7,842.78 286.32,840.49 289.94,838.2 293.55,835.9 297.17,833.61 300.79,831.31 304.4,829.02 308.02,826.72 311.64,824.43 315.25,822.13 318.87,819.84 322.49,817.54 326.11,815.25 329.72,812.95 333.34,810.66 336.96,808.36 340.57,806.07 344.19,803.78 347.81,801.48 351.42,799.19 355.04,796.89 358.66,794.6 362.27,792.3 365.89,790.01 369.51,787.71 373.13,785.42 376.74,783.12 380.36,780.83 383.98,778.53 387.59,776.24 391.21,773.95 394.83,771.65 398.44,769.36 402.06,767.06 405.68,764.77 409.3,762.47 412.91,760.18 416.53,757.88 420.15,755.59 423.76,753.29 427.38,751 431,748.7 434.62,746.41 438.23,744.12 441.85,741.82 445.47,739.53 449.08,737.23 452.7,734.94" fill="none" stroke="#808000" stroke-width="0.7" stroke-opacity="0.5" stroke-linejoin="round"/>
<polyline points="91,964.4 94.62,962.11 98.23,959.81 101.85,957.52 105.47,955.22 109.09,952.93 112.7,950.63 116.32,948.34 119.94,946.04 123.55,943.75 127.17,941.45 130.79,939.16 134.4,936.86 138.02,934.57 141.64,932.28 145.25,929.98 148.87,927.69 152.49,925.39 156.11,923.1 159.72,920.8 163.34,918.51 166.96,916.21 170.57,913.92 174.19,911.62 177.81,909.33 181.43,907.03 185.04,904.74 188.66,902.44 192.28,900.15 195.89,897.86 199.51,895.56 203.13,893.27 206.74,890.97 210.36,888.68 213.98,886.38 217.6,884.09 221.21,881.79 224.83,879.5 228.45,877.2 232.06,874.91 235.68,872.61 239.3,870.32 242.91,868.03 246.53,865.73 250.15,863.44 253.76,861.14 257.38,858.85 261,856.55 264.62,854.26 268.23,851.96 271.85,849.67 275.47,847.37 279.08,845.08 282.7,842.78 286.32,840.49 289.94,838.2 293.55,835.9 297.17,833.61 300.79,831.31 304.4,829.02 308.02,826.72 311.64,824.43 315.25,822.13 318.87,819.84 322.49,817.54 326.11,815.25 329.72,812.95 333.34,810.66 336.96,808.36 340.57,806.07 344.19,803.78 347.81,801.48 351.42,799.19 355.04,796.89 358.66,794.6 362.27,792.3 365.89,790.01 369.51,787.71 373.13,785.42 376.74,783.12 380.36,780.83 383.98,778.53 387.59,776.24 391.21,773.95 394.83,771.65 398.44,769.36 402.06,767.06 405.68,764.77 409.3,762.47 412.91,760.18 416.53,757.88 420.15,755.59 423.76,753.29 427.38,751 431,748.7 434.62,746.41 438.23,744.12 441.85,741.82 445.47,739.53 449.08,737.23 452.7,734.94" fill="none" stroke="#000080" stroke-width="0.7" stroke-opacity="0.5" stroke-linejoin="round"/>
<polyline points="91,964.4 94.62,962.11 98.23,959.81 101.85,957.52 105.47,955.22 109.09,952.93 112.7,950.63 116.32,948.34 119.94,946.04 123.55,943.75 127.17,941.45 130.79,939.16 134.4,936.86 138.02,934.57 141.64,932.28 145.25,929.98 148.87,927.69 152.49,925.39 156.11,923.1 159.72,920.8 163.34,918.51 166.96,916.21 170.57,913.92 174.19,911.62 177.81,909.33 181.43,907.03 185.04,904.74 188.66,902.44 192.28,900.15 195.89,897.86 199.51,895.56 203.13,893.27 206.74,890.97 210.36,888.68 213.98,886.38 217.6,884.09 221.21,881.79 224.83,879.5 228.45,877.2 232.06,874.91 235.68,872.61 239.3,870.32 242.91,868.03 246.53,865.73 250.15,863.44 253.76,861.14 257.38,858.85 261,856.55 264.62,854.26 268.23,851.96 271.85,849.67 275.47,847.37 279.08,845.08 282.7,842.78 286.32,840.49 289.94,838.2 293.55,835.9 297.17,833.61 300.79,831.31 304.4,829.02 308.02,826.72 311.64,824.43 315.25,822.13 318.87,819.84 322.49,817.54 326.11,815.25 329.72,812.95 333.34,810.66 336.96,808.36 340.57,806.07 344.19,803.78 347.81,801.48 351.42,799.19 355.04,796.89 358.66,794.6 362.27,792.3 365.89,790.01 369.51,787.71 373.13,785.42 376.74,783.12 380.36,780.83 383.98,778.53 387.59,776.24 391.21,773.95 394.83,771.65 398.44,769.36 402.06,767.06 405.68,764.77 409.3,762.47 412.91,760.18 416.53,757.88 420.15,755.59 423.76,753.29 427.38,751 431,748.7 434.62,746.41 438.23,744.12 441.85,741.82 445.47,739.53 449.08,737.23 452.7,734.94" fill="none" stroke="#800000" stroke-width="0.7" stroke-opacity="0.5" stroke-linejoin="round"/>
<polyline points="91,964.4 94.62,962.11 98.23,959.81 101.85,957.52 105.47,955.22 109.09,952.93 112.7,950.63 116.32,948.34 119.94,946.04 123.55,943.75 127.17,941.45 130.79,939.16 134.4,936.86 138.02,934.57 141.64,932.28 145.25,929.98 148.87,927.69 152.49,925.39 156.11,923.1 159.72,920.8 163.34,918.51 166.96,916.21 170.57,913.92 174.19,911.62 177.81,909.33 181.43,907.03 185.04,904.74 188.66,902.44 192.28,900.15 195.89,897.86 199.51,895.56 203.13,893.27 206.74,890.97 210.36,888.68 213.98,886.38 217.6,884.09 221.21,881.79 224.83,879.5 228.45,877.2 232.06,874.91 235.68,872.61 239.3,870.32 242.91,868.03 246.53,865.73 250.15,863.44 253.76,861.14 257.38,858.85 261,856.55 264.62,854.26 268.23,851.96 271.85,849.67 275.47,847.37 279.08,845.08 282.7,842.78 286.32,840.49 289.94,838.2 293.55,835.9 297.17,833.61 300.79,831.31 304.4,829.02 308.02,826.72 311.64,824.43 315.25,822.13 318.87,819.84 322.49,817.54 326.11,815.25 329.72,812.95 333.34,810.66 336.96,808.36 340.57,806.07 344.19,803.78 347.81,801.48 351.42,799.19 355.04,796.89 358.66,794.6 362.27,792.3 365.89,790.01 369.51,787.71 373.13,785.42 376.74,783.12 380.36,780.83 383.98,778.53 387.59,776.24 391.21,773.95 394.83,771.65 398.44,769.36 402.06,767.06 405.68,764.77 409.3,762.47 412.91,760.18 416.53,757.88 420.15,755.59 423.76,753.29 427.38,751 431,748.7 434.62,746.41 438.23,744.12 441.85,741.82 445.47,739.53 449.08,737.23 452.7,734.94" fill="none" stroke="#ff0080" stroke-width="0.7" stroke-opacity="0.5" stroke-linejoin="round"/>
<polyline points="91,964.4 94.62,962.11 98.23,959.81 101.85,957.52 105.47,955.22 109.09,952.93 112.7,950.63 116.32,948.34 119.94,946.04 123.55,943.75 127.17,941.45 130.79,939.16 134.4,936.86 138.02,934.57 141.64,932.28 145.25,929.98 148.87,927.69 152.49,925.39 156.11,923.1 159.72,920.8 163.34,918.51 166.96,916.21 170.57,913.92 174.19,911.62 177.81,909.33 181.43,907.03 185.04,904.74 188.66,902.44 192.28,900.15 195.89,897.86 199.51,895.56 203.13,893.27 206.74,890.97 210.36,888.68 213.98,886.38 217.6,884.09 221.21,881.79 224.83,879.5 228.45,877.2 232.06,874.91 235.68,872.61 239.3,870.32 242.91,868.03 246.53,865.73 250.15,863.44 253.76,861.14 257.38,858.85 261,856.55 264.62,854.26 268.23,851.96 271.85,849.67 275.47,847.37 279.08,845.08 282.7,842.78 286.32,840.49 289.94,838.2 293.55,835.9 297.17,833.61 300.79,831.31 304.4,829.02 308.02,826.72 311.64,824.43 315.25,822.13 318.87,819.84 322.49,817.54 326.11,815.25 329.72,812.95 333.34,810.66 336.96,808.36 340.57,806.07 344.19,803.78 347.81,801.48 351.42,799.19 355.04,796.89 358.66,794.6 362.27,792.3 365.89,790.01 369.51,787.71 373.13,785.42 376.74,783.12 380.36,780.83 383.98,778.53 387.59,776.24 391.21,773.95 394.83,771.65 398.44,769.36 402.06,767.06 405.68,764.77 409.3,762.47 412.91,760.18 416.53,757.88 420.15,755.59 423.76,753.29 427.38,751 431,748.7 434.62,746.41 438.23,744.12 441.85,741.82 445.47,739.53 449.08,737.23 452.7,734.94" fill="none" stroke="#008000" stroke-width="0.7" stroke-opacity="0.5" stroke-linejoin="round"/>
<rect x="91" y="710.15" width="361.7" height="278.25" fill="none" stroke="#000" stroke-width="1.7"/>
<path d="M91 988.4v-6.0M91 710.15v6.0M163.34 988.4v-6.0M163.34 710.15v6.0M235.68 988.4v-6.0M235.68 710.15v6.0M308.02 988.4v-6.0M308.02 710.15v6.0M380.36 988.4v-6.0M380.36 710.15v6.0M452.7 988.4v-6.0M452.7 710.15v6.0M127.17 988.4v-3.4M127.17 710.15v3.4M199.51 988.4v-3.4M199.51 710.15v3.4M271.85 988.4v-3.4M271.85 710.15v3.4M344.19 988.4v-3.4M344.19 710.15v3.4M416.53 988.4v-3.4M416.53 710.15v3.4" stroke="#000" stroke-width="1.6" fill="none"/>
<text x="91" y="1006" text-anchor="middle" class="tk">0.0</text>
<text x="163.34" y="1006" text-anchor="middle" class="tk">0.2</text>
<text x="235.68" y="1006" text-anchor="middle" class="tk">0.4</text>
<text x="308.02" y="1006" text-anchor="middle" class="tk">0.6</text>
<text x="380.36" y="1006" text-anchor="middle" class="tk">0.8</text>
<text x="452.7" y="1006" text-anchor="middle" class="tk">1.0</text>
<path d="M91 964.4h6.0M452.7 964.4h-6.0M91 915.99h6.0M452.7 915.99h-6.0M91 867.58h6.0M452.7 867.58h-6.0M91 819.17h6.0M452.7 819.17h-6.0M91 770.76h6.0M452.7 770.76h-6.0M91 722.35h6.0M452.7 722.35h-6.0M91 940.19h3.4M452.7 940.19h-3.4M91 891.78h3.4M452.7 891.78h-3.4M91 843.38h3.4M452.7 843.38h-3.4M91 794.96h3.4M452.7 794.96h-3.4M91 746.55h3.4M452.7 746.55h-3.4" stroke="#000" stroke-width="1.6" fill="none"/>
<text x="84.5" y="968.6" text-anchor="end" class="tk">1.0</text>
<text x="84.5" y="920.19" text-anchor="end" class="tk">1.2</text>
<text x="84.5" y="871.78" text-anchor="end" class="tk">1.4</text>
<text x="84.5" y="823.37" text-anchor="end" class="tk">1.6</text>
<text x="84.5" y="774.96" text-anchor="end" class="tk">1.8</text>
<text x="84.5" y="726.55" text-anchor="end" class="tk">2.0</text>
<rect x="100.8" y="718.4" width="64.9" height="168.9" fill="#fff" stroke="#808080" stroke-width="0.8"/>
<text transform="translate(132.1 731.9) scale(1.03 1)" text-anchor="end" class="lg" font-size="13.4">0.2</text>
<text transform="translate(115.25 731.9) scale(0.98 1)" text-anchor="end" class="lg" font-size="13.4">τ=</text>
<line x1="132.4" y1="727.3" x2="162.9" y2="727.3" stroke="#000000" stroke-width="0.6" stroke-opacity="0.85"/>
<text transform="translate(134.1 748.83) scale(1.03 1)" text-anchor="end" class="lg" font-size="13.4">0.4</text>
<line x1="134" y1="744.23" x2="164.7" y2="744.23" stroke="#ff0000" stroke-width="0.6" stroke-opacity="0.85"/>
<text transform="translate(134.1 765.76) scale(1.03 1)" text-anchor="end" class="lg" font-size="13.4">0.6</text>
<line x1="134" y1="761.16" x2="164.7" y2="761.16" stroke="#0000ff" stroke-width="0.6" stroke-opacity="0.85"/>
<text transform="translate(134.1 782.69) scale(1.03 1)" text-anchor="end" class="lg" font-size="13.4">0.8</text>
<line x1="134" y1="778.09" x2="164.7" y2="778.09" stroke="#008080" stroke-width="0.6" stroke-opacity="0.85"/>
<text transform="translate(134.1 799.62) scale(1.03 1)" text-anchor="end" class="lg" font-size="13.4">1.0</text>
<line x1="134" y1="795.02" x2="164.7" y2="795.02" stroke="#ff00ff" stroke-width="0.6" stroke-opacity="0.85"/>
<text transform="translate(134.1 816.55) scale(1.03 1)" text-anchor="end" class="lg" font-size="13.4">1.2</text>
<line x1="134" y1="811.95" x2="164.7" y2="811.95" stroke="#808000" stroke-width="0.6" stroke-opacity="0.85"/>
<text transform="translate(134.1 833.48) scale(1.03 1)" text-anchor="end" class="lg" font-size="13.4">1.4</text>
<line x1="134" y1="828.88" x2="164.7" y2="828.88" stroke="#000080" stroke-width="0.6" stroke-opacity="0.85"/>
<text transform="translate(134.1 850.41) scale(1.03 1)" text-anchor="end" class="lg" font-size="13.4">1.6</text>
<line x1="134" y1="845.81" x2="164.7" y2="845.81" stroke="#800000" stroke-width="0.6" stroke-opacity="0.85"/>
<text transform="translate(134.1 867.34) scale(1.03 1)" text-anchor="end" class="lg" font-size="13.4">1.8</text>
<line x1="134" y1="862.74" x2="164.7" y2="862.74" stroke="#ff0080" stroke-width="0.6" stroke-opacity="0.85"/>
<text transform="translate(134.1 884.27) scale(1.03 1)" text-anchor="end" class="lg" font-size="13.4">2.0</text>
<line x1="134" y1="879.67" x2="164.7" y2="879.67" stroke="#008000" stroke-width="0.6" stroke-opacity="0.85"/>
<text x="95.5" y="700.1" class="pl">(c)</text>
<text x="242.6" y="756.6" class="ser" font-size="20.2" textLength="12.6" lengthAdjust="spacingAndGlyphs">α</text>
<text x="254.9" y="756.6" class="ser" font-size="20.2" textLength="20.5" lengthAdjust="spacingAndGlyphs">=1</text>
<text x="272.2" y="1040" text-anchor="middle" class="zl">z</text>
<text transform="translate(54.4 846) rotate(-90)" text-anchor="middle" class="ttl">n</text>
<line x1="36.4" y1="842.8" x2="36.4" y2="852.9" stroke="#333" stroke-width="1.1"/>
<polyline points="569.3,979.45 570.53,979.12 571.76,978.8 572.98,978.47 574.21,978.14 575.44,977.81 576.66,977.47 577.89,977.14 579.11,976.81 580.34,976.47 581.56,976.14 582.79,975.8 584.01,975.46 585.24,975.12 586.46,974.78 587.68,974.43 588.9,974.09 590.13,973.74 591.35,973.39 592.57,973.04 593.79,972.69 595.01,972.33 596.23,971.98 597.45,971.62 598.66,971.26 599.88,970.89 601.1,970.53 602.31,970.16 603.53,969.78 604.74,969.39 605.94,968.98 607.13,968.55 608.32,968.1 609.5,967.62 610.67,967.13 611.83,966.61 612.98,966.06 614.12,965.5 615.25,964.91 616.36,964.3 617.46,963.66 618.55,963 619.63,962.33 620.69,961.63 621.74,960.91 622.77,960.17 623.79,959.41 624.79,958.64 625.78,957.84 626.76,957.03 627.73,956.21 628.69,955.37 629.64,954.52 630.58,953.66 631.51,952.79 632.42,951.9 633.31,950.99 634.19,950.07 635.05,949.13 635.89,948.18 636.71,947.2 637.5,946.21 638.26,945.2 639,944.16 639.71,943.11 640.4,942.04 641.06,940.95 641.7,939.85 642.31,938.74 642.91,937.61 643.48,936.48 644.03,935.33 644.55,934.17 645.06,933.01 645.55,931.83 646.02,930.65 646.47,929.46 646.9,928.27 647.32,927.07 647.71,925.86 648.1,924.65 648.46,923.43 648.82,922.21 649.16,920.99 649.49,919.76 649.81,918.53 650.12,917.3 650.42,916.06 650.71,914.83 651,913.59 651.28,912.35 651.55,911.11 651.82,909.86 652.08,908.62 652.33,907.38 652.57,906.13 652.81,904.88 653.04,903.63 653.26,902.38 653.48,901.13 653.69,899.88 653.89,898.62 654.09,897.37 654.29,896.11 654.48,894.86 654.67,893.6 654.86,892.35 655.05,891.09 655.23,889.83 655.41,888.57 655.59,887.31 655.76,886.06 655.93,884.8 656.1,883.54 656.26,882.28 656.42,881.02 656.57,879.76 656.72,878.5 656.86,877.23 657,875.97 657.13,874.71 657.25,873.44 657.37,872.18 657.49,870.91 657.6,869.65 657.7,868.38 657.8,867.12 657.9,865.85 657.99,864.58 658.08,863.32 658.17,862.05 658.25,860.78 658.33,859.51 658.41,858.25 658.48,856.98 658.56,855.71 658.63,854.44 658.7,853.17 658.77,851.9 658.84,850.63 658.91,849.36 658.98,848.09 659.04,846.83 659.11,845.56 659.18,844.29 659.25,843.02 659.33,841.75 659.4,840.48 659.47,839.21 659.55,837.94 659.62,836.68 659.7,835.41 659.77,834.14 659.85,832.87 659.92,831.6 660,830.34 660.07,829.07 660.15,827.8 660.22,826.53 660.29,825.26 660.37,824 660.44,822.73 660.51,821.46 660.58,820.19 660.65,818.92 660.72,817.66 660.79,816.39 660.85,815.12 660.92,813.85 660.98,812.58 661.04,811.31 661.1,810.04 661.16,808.77 661.22,807.51 661.27,806.24 661.33,804.97 661.38,803.7 661.44,802.43 661.49,801.16 661.54,799.89 661.59,798.62 661.64,797.35 661.69,796.08 661.73,794.81 661.78,793.54 661.83,792.27 661.87,791 661.92,789.74 661.96,788.47 662,787.2 662.05,785.93 662.09,784.66 662.13,783.39 662.18,782.12 662.22,780.85 662.26,779.58 662.3,778.31 662.35,777.04 662.39,775.77 662.43,774.5 662.47,773.23 662.51,771.96 662.55,770.69 662.59,769.42 662.63,768.15 662.66,766.88 662.7,765.61 662.74,764.34 662.78,763.07 662.81,761.8 662.85,760.53 662.88,759.26 662.92,757.99 662.95,756.72 662.98,755.45 663.01,754.18 663.04,752.91 663.07,751.64 663.1,750.37 663.13,749.1 663.16,747.83 663.19,746.56 663.21,745.29 663.24,744.02 663.26,742.75 663.29,741.48 663.31,740.21 663.33,738.94 663.35,737.67 663.37,736.4 663.39,735.13 663.4,733.86 663.42,732.59 663.44,731.32 663.45,730.05 663.46,728.78 663.47,727.51 663.48,726.24 663.49,724.97 663.5,723.7" fill="none" stroke="#ff0000" stroke-width="1.4" stroke-linejoin="round"/>
<polyline points="569.3,979.45 570.21,979.2 571.12,978.96 572.03,978.72 572.94,978.47 573.85,978.23 574.77,977.99 575.68,977.75 576.59,977.51 577.5,977.27 578.41,977.03 579.32,976.8 580.24,976.56 581.15,976.32 582.06,976.09 582.97,975.85 583.89,975.62 584.8,975.38 585.71,975.15 586.62,974.91 587.53,974.68 588.45,974.44 589.36,974.2 590.27,973.97 591.18,973.73 592.1,973.5 593.01,973.26 593.92,973.02 594.83,972.78 595.74,972.55 596.66,972.31 597.57,972.07 598.48,971.83 599.39,971.58 600.3,971.34 601.21,971.1 602.13,970.85 603.04,970.6 603.95,970.35 604.85,970.1 605.76,969.85 606.67,969.59 607.57,969.32 608.48,969.06 609.38,968.78 610.28,968.51 611.18,968.23 612.08,967.94 612.97,967.64 613.86,967.34 614.75,967.03 615.64,966.72 616.53,966.39 617.41,966.07 618.29,965.73 619.17,965.39 620.04,965.04 620.92,964.69 621.79,964.33 622.66,963.97 623.53,963.61 624.4,963.24 625.26,962.86 626.13,962.49 626.99,962.11 627.86,961.72 628.72,961.34 629.58,960.95 630.44,960.56 631.3,960.17 632.16,959.78 633.02,959.38 633.87,958.98 634.72,958.57 635.57,958.16 636.42,957.75 637.26,957.32 638.1,956.89 638.94,956.46 639.77,956.01 640.6,955.56 641.42,955.1 642.23,954.63 643.04,954.16 643.85,953.67 644.65,953.17 645.44,952.67 646.23,952.15 647.01,951.63 647.79,951.1 648.56,950.56 649.33,950.02 650.1,949.47 650.86,948.91 651.63,948.35 652.38,947.79 653.14,947.23 653.9,946.66 654.65,946.09 655.4,945.52 656.15,944.95 656.91,944.38 657.66,943.81 658.41,943.24 659.16,942.67 659.92,942.11 660.67,941.54 661.43,940.98 662.18,940.42 662.94,939.85 663.69,939.29 664.45,938.73 665.21,938.18 665.97,937.62 666.73,937.06 667.49,936.5 668.25,935.95 669.01,935.39 669.77,934.84 670.53,934.28 671.3,933.72 672.06,933.17 672.82,932.61 673.59,932.06 674.36,931.51 675.13,930.96 675.9,930.42 676.69,929.89 677.47,929.38 678.27,928.87 679.07,928.38 679.89,927.91 680.71,927.46 681.55,927.03 682.39,926.62 683.24,926.22 684.1,925.83 684.96,925.45 685.83,925.08 686.7,924.71 687.58,924.35 688.45,923.99 689.33,923.63 690.2,923.26 691.07,922.9 691.95,922.54 692.82,922.19 693.7,921.84 694.58,921.51 695.47,921.19 696.36,920.89 697.26,920.6 698.16,920.34 699.07,920.1 699.98,919.88 700.9,919.68 701.83,919.5 702.76,919.34 703.69,919.18 704.62,919.05 705.56,918.92 706.5,918.79 707.44,918.68 708.37,918.57 709.31,918.46 710.25,918.36 711.19,918.26 712.12,918.17 713.06,918.08 714,917.99 714.94,917.91 715.88,917.84 716.82,917.77 717.76,917.7 718.7,917.64 719.64,917.58 720.58,917.53 721.52,917.47 722.46,917.43 723.4,917.38 724.34,917.34 725.28,917.3 726.23,917.26 727.17,917.23 728.11,917.2 729.05,917.16 730,917.14 730.94,917.11 731.88,917.08 732.82,917.06 733.77,917.03 734.71,917.01 735.65,916.98 736.59,916.96 737.54,916.94 738.48,916.92 739.42,916.9 740.36,916.88 741.31,916.85 742.25,916.84 743.19,916.82 744.13,916.8 745.08,916.78 746.02,916.76 746.96,916.74 747.9,916.73 748.84,916.71 749.79,916.7 750.73,916.68 751.67,916.67 752.61,916.65 753.56,916.64 754.5,916.63 755.44,916.62 756.38,916.6 757.32,916.59 758.27,916.58 759.21,916.57 760.15,916.56 761.09,916.55 762.03,916.54 762.98,916.54 763.92,916.53 764.86,916.52 765.8,916.51 766.75,916.51 767.69,916.5 768.63,916.5 769.57,916.49 770.52,916.49 771.46,916.49 772.4,916.48 773.34,916.48 774.29,916.48 775.23,916.48 776.17,916.48 777.12,916.48 778.06,916.48 779,916.48 779.95,916.48" fill="none" stroke="#00ff00" stroke-width="1.4" stroke-linejoin="round"/>
<polyline points="569.3,979.45 570.38,979.1 571.47,978.77 572.56,978.45 573.66,978.16 574.76,977.89 575.86,977.63 576.97,977.39 578.08,977.16 579.2,976.95 580.31,976.75 581.43,976.56 582.55,976.39 583.68,976.22 584.8,976.07 585.93,975.92 587.05,975.78 588.18,975.65 589.31,975.53 590.44,975.41 591.57,975.3 592.7,975.19 593.83,975.09 594.96,974.99 596.09,974.9 597.22,974.81 598.35,974.72 599.48,974.64 600.61,974.56 601.75,974.49 602.88,974.42 604.01,974.35 605.14,974.28 606.28,974.22 607.41,974.16 608.54,974.1 609.68,974.04 610.81,973.99 611.94,973.94 613.08,973.89 614.21,973.84 615.35,973.8 616.48,973.75 617.61,973.71 618.75,973.67 619.88,973.64 621.02,973.6 622.15,973.57 623.28,973.53 624.42,973.5 625.55,973.47 626.69,973.44 627.82,973.42 628.96,973.39 630.09,973.37 631.22,973.34 632.36,973.32 633.49,973.3 634.63,973.28 635.76,973.26 636.9,973.24 638.03,973.23 639.17,973.21 640.3,973.2 641.44,973.18 642.57,973.17 643.7,973.16 644.84,973.14 645.97,973.13 647.11,973.12 648.24,973.11 649.38,973.1 650.51,973.09 651.65,973.08 652.78,973.08 653.92,973.07 655.05,973.06 656.19,973.06 657.32,973.05 658.46,973.05 659.59,973.04 660.72,973.04 661.86,973.03 662.99,973.03 664.13,973.03 665.26,973.02 666.4,973.02 667.53,973.02 668.67,973.02 669.8,973.01 670.94,973.01 672.07,973.01 673.21,973.01 674.34,973.01 675.47,973.01 676.61,973 677.74,973 678.88,973 680.01,973 681.15,973 682.28,973 683.42,973 684.55,972.99 685.69,972.99 686.82,972.99 687.96,972.99 689.09,972.99 690.23,972.99 691.36,972.99 692.49,972.99 693.63,972.98 694.76,972.98 695.9,972.98 697.03,972.98 698.17,972.98 699.3,972.98 700.44,972.98 701.57,972.97 702.71,972.97 703.84,972.97 704.98,972.97 706.11,972.97 707.25,972.97 708.38,972.96 709.51,972.96 710.65,972.96 711.78,972.96 712.92,972.96 714.05,972.96 715.19,972.96 716.32,972.95 717.46,972.95 718.59,972.95 719.73,972.95 720.86,972.95 722,972.95 723.13,972.95 724.27,972.94 725.4,972.94 726.53,972.94 727.67,972.94 728.8,972.94 729.94,972.94 731.07,972.93 732.21,972.93 733.34,972.93 734.48,972.93 735.61,972.93 736.75,972.93 737.88,972.93 739.02,972.92 740.15,972.92 741.28,972.92 742.42,972.92 743.55,972.92 744.69,972.92 745.82,972.92 746.96,972.91 748.09,972.91 749.23,972.91 750.36,972.91 751.5,972.91 752.63,972.91 753.77,972.91 754.9,972.91 756.04,972.9 757.17,972.9 758.3,972.9 759.44,972.9 760.57,972.9 761.71,972.9 762.84,972.9 763.98,972.9 765.11,972.9 766.25,972.89 767.38,972.89 768.52,972.89 769.65,972.89 770.79,972.89 771.92,972.89 773.06,972.89 774.19,972.89 775.32,972.89 776.46,972.89 777.59,972.88 778.73,972.88 779.86,972.88 781,972.88 782.13,972.88 783.27,972.88 784.4,972.88 785.54,972.88 786.67,972.88 787.81,972.88 788.94,972.88 790.08,972.88 791.21,972.88 792.34,972.88 793.48,972.88 794.61,972.88 795.75,972.88 796.88,972.88 798.02,972.88 799.15,972.88 800.29,972.88 801.42,972.88 802.56,972.88 803.69,972.88 804.83,972.88 805.96,972.88 807.09,972.88 808.23,972.88 809.36,972.88 810.5,972.88 811.63,972.88 812.77,972.88 813.9,972.88 815.04,972.88 816.17,972.88 817.31,972.88 818.44,972.88 819.58,972.88 820.71,972.88 821.85,972.88 822.98,972.88 824.11,972.88 825.25,972.88 826.38,972.88 827.52,972.89 828.65,972.89 829.79,972.89 830.92,972.89 832.06,972.89 833.19,972.89 834.33,972.89 835.46,972.89 836.6,972.9 837.73,972.9 838.87,972.9 840,972.9" fill="none" stroke="#0000ff" stroke-width="1.4" stroke-linejoin="round"/>
<rect x="569.3" y="708.3" width="362.88" height="278.1" fill="none" stroke="#000" stroke-width="1.7"/>
<path d="M569.3 986.4v-6.0M569.3 708.3v6.0M660.02 986.4v-6.0M660.02 708.3v6.0M750.74 986.4v-6.0M750.74 708.3v6.0M614.66 986.4v-3.4M614.66 708.3v3.4M705.38 986.4v-3.4M705.38 708.3v3.4M796.1 986.4v-3.4M796.1 708.3v3.4" stroke="#000" stroke-width="1.6" fill="none"/>
<text x="569.3" y="1004.4" text-anchor="middle" class="tk">0.0</text>
<text x="660.02" y="1004.4" text-anchor="middle" class="tk">0.5</text>
<text x="750.74" y="1004.4" text-anchor="middle" class="tk">1.0</text>
<text x="841.46" y="1004.4" text-anchor="middle" class="tk">1.5</text>
<path d="M569.3 986.4h6.0M569.3 951.64h6.0M569.3 916.88h6.0M569.3 882.11h6.0M569.3 847.35h6.0M569.3 812.59h6.0M569.3 777.83h6.0M569.3 743.06h6.0M569.3 708.3h6.0M569.3 969.02h3.4M569.3 934.26h3.4M569.3 899.49h3.4M569.3 864.73h3.4M569.3 829.97h3.4M569.3 795.21h3.4M569.3 760.44h3.4M569.3 725.68h3.4" stroke="#000" stroke-width="1.6" fill="none"/>
<text x="562.8" y="990.6" text-anchor="end" class="tk">0</text>
<text x="562.8" y="955.84" text-anchor="end" class="tk">5</text>
<text x="562.8" y="921.08" text-anchor="end" class="tk">10</text>
<text x="562.8" y="886.31" text-anchor="end" class="tk">15</text>
<text x="562.8" y="851.55" text-anchor="end" class="tk">20</text>
<text x="562.8" y="816.79" text-anchor="end" class="tk">25</text>
<text x="562.8" y="782.03" text-anchor="end" class="tk">30</text>
<text x="562.8" y="747.26" text-anchor="end" class="tk">35</text>
<text x="562.8" y="712.5" text-anchor="end" class="tk">40</text>
<rect x="762.5" y="722.8" width="90" height="60.7" fill="#fff" stroke="#7a7a7a" stroke-width="0.8"/>
<text x="764.2" y="738.8" font-family='"Liberation Sans", sans-serif' font-weight="bold" font-size="15.6">soluble</text>
<text transform="translate(823.8 738.8) scale(1.25 1)" class="ser" font-size="15.5">α=</text>
<text x="576.2" y="697.8" class="pl">(d)</text>
<text x="750.2" y="1034.4" text-anchor="middle" class="ser" font-size="19.6">τ</text>
<text transform="translate(522.1 851.4) rotate(-90)" text-anchor="middle" class="ttl">P</text>
<text transform="translate(530.7 839.2) rotate(-90)" text-anchor="middle" font-family='"Liberation Sans", sans-serif' font-size="12.6">in</text>
<line x1="503.7" y1="849.4" x2="503.7" y2="859.8" stroke="#777" stroke-width="1.5"/>
</g></svg></body></html>
